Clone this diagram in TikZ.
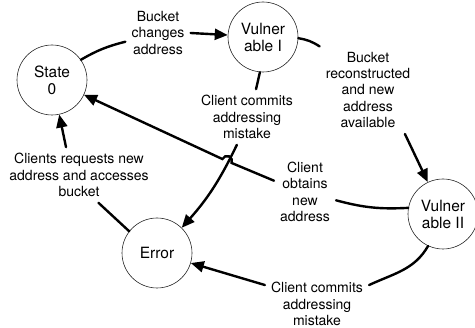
\documentclass[tikz,border=0pt]{standalone}
\usepackage{fontspec}
\setmainfont{TeX Gyre Heros}
\usetikzlibrary{arrows.meta}

\begin{document}
\begin{tikzpicture}[x=1pt, y=1pt,
    >={Triangle[length=13pt,width=11pt]},
    state/.style={circle, draw=black!85, line width=0.6pt, minimum size=70pt, inner sep=0pt, align=center, font=\fontsize{15.5}{17}\selectfont},
    lbl/.style={rectangle, inner sep=6pt, align=center, font=\fontsize{14}{16.3}\selectfont},
    trans/.style={line width=2.4pt, line cap=round}]
    \useasboundingbox (0,0) rectangle (475,328);
    %
    \node[state] (s0)  at (52,248)  {State\\0};
    \node[state] (v1)  at (263,291) {Vulner\\able I};
    \node[state] (v2)  at (443,114) {Vulner\\able II};
    \node[state] (err) at (157,75)  {Error};
    %
    \node[lbl] (l1) at (158,295) {Bucket\\changes\\address};
    \node[lbl] (l2) at (368,238) {Bucket\\reconstructed\\and new\\address\\available};
    \node[lbl] (l3) at (247,211) {Client commits\\addressing\\mistake};
    \node[lbl] (l4) at (305,136) {Client\\obtains\\new\\address};
    \node[lbl] (l5) at (317,24)  {Client commits\\addressing\\mistake};
    \node[lbl] (l6) at (79,153)  {Clients requests new\\address and accesses\\bucket};
    %
    \coordinate (hop) at (227,167);
    %
    \draw[trans] (s0.35) to [bend left=8] (l1.195);
    \draw[->, trans] (l1.east) -- (v1);
    %
    \draw[trans] (v1.-2) to [bend left=12] (l2.138);
    \draw[->, trans] (l2.-50) -- (v2);
    %
    \draw[trans] (v1.-95) -- (l3.72);
    \draw[->, trans] (l3.-110) to [bend left=8] (err);
    %
    \draw[trans] (v2.170) to [out=183, in=-15] (l4.-15);
    \draw[->, trans] (l4.160) -- ([shift={(-23:5pt)}]hop) arc[start angle=-23, end angle=157, radius=5pt] -- (s0);
    %
    \draw[trans] (v2.-115) to [out=-120, in=25] (l5.20);
    \draw[->, trans] (l5.160) -- (err);
    %
    \draw[trans] (err.142) -- (l6.-55);
    \draw[->, trans] (l6.115) -- (s0);
\end{tikzpicture}
\end{document}
